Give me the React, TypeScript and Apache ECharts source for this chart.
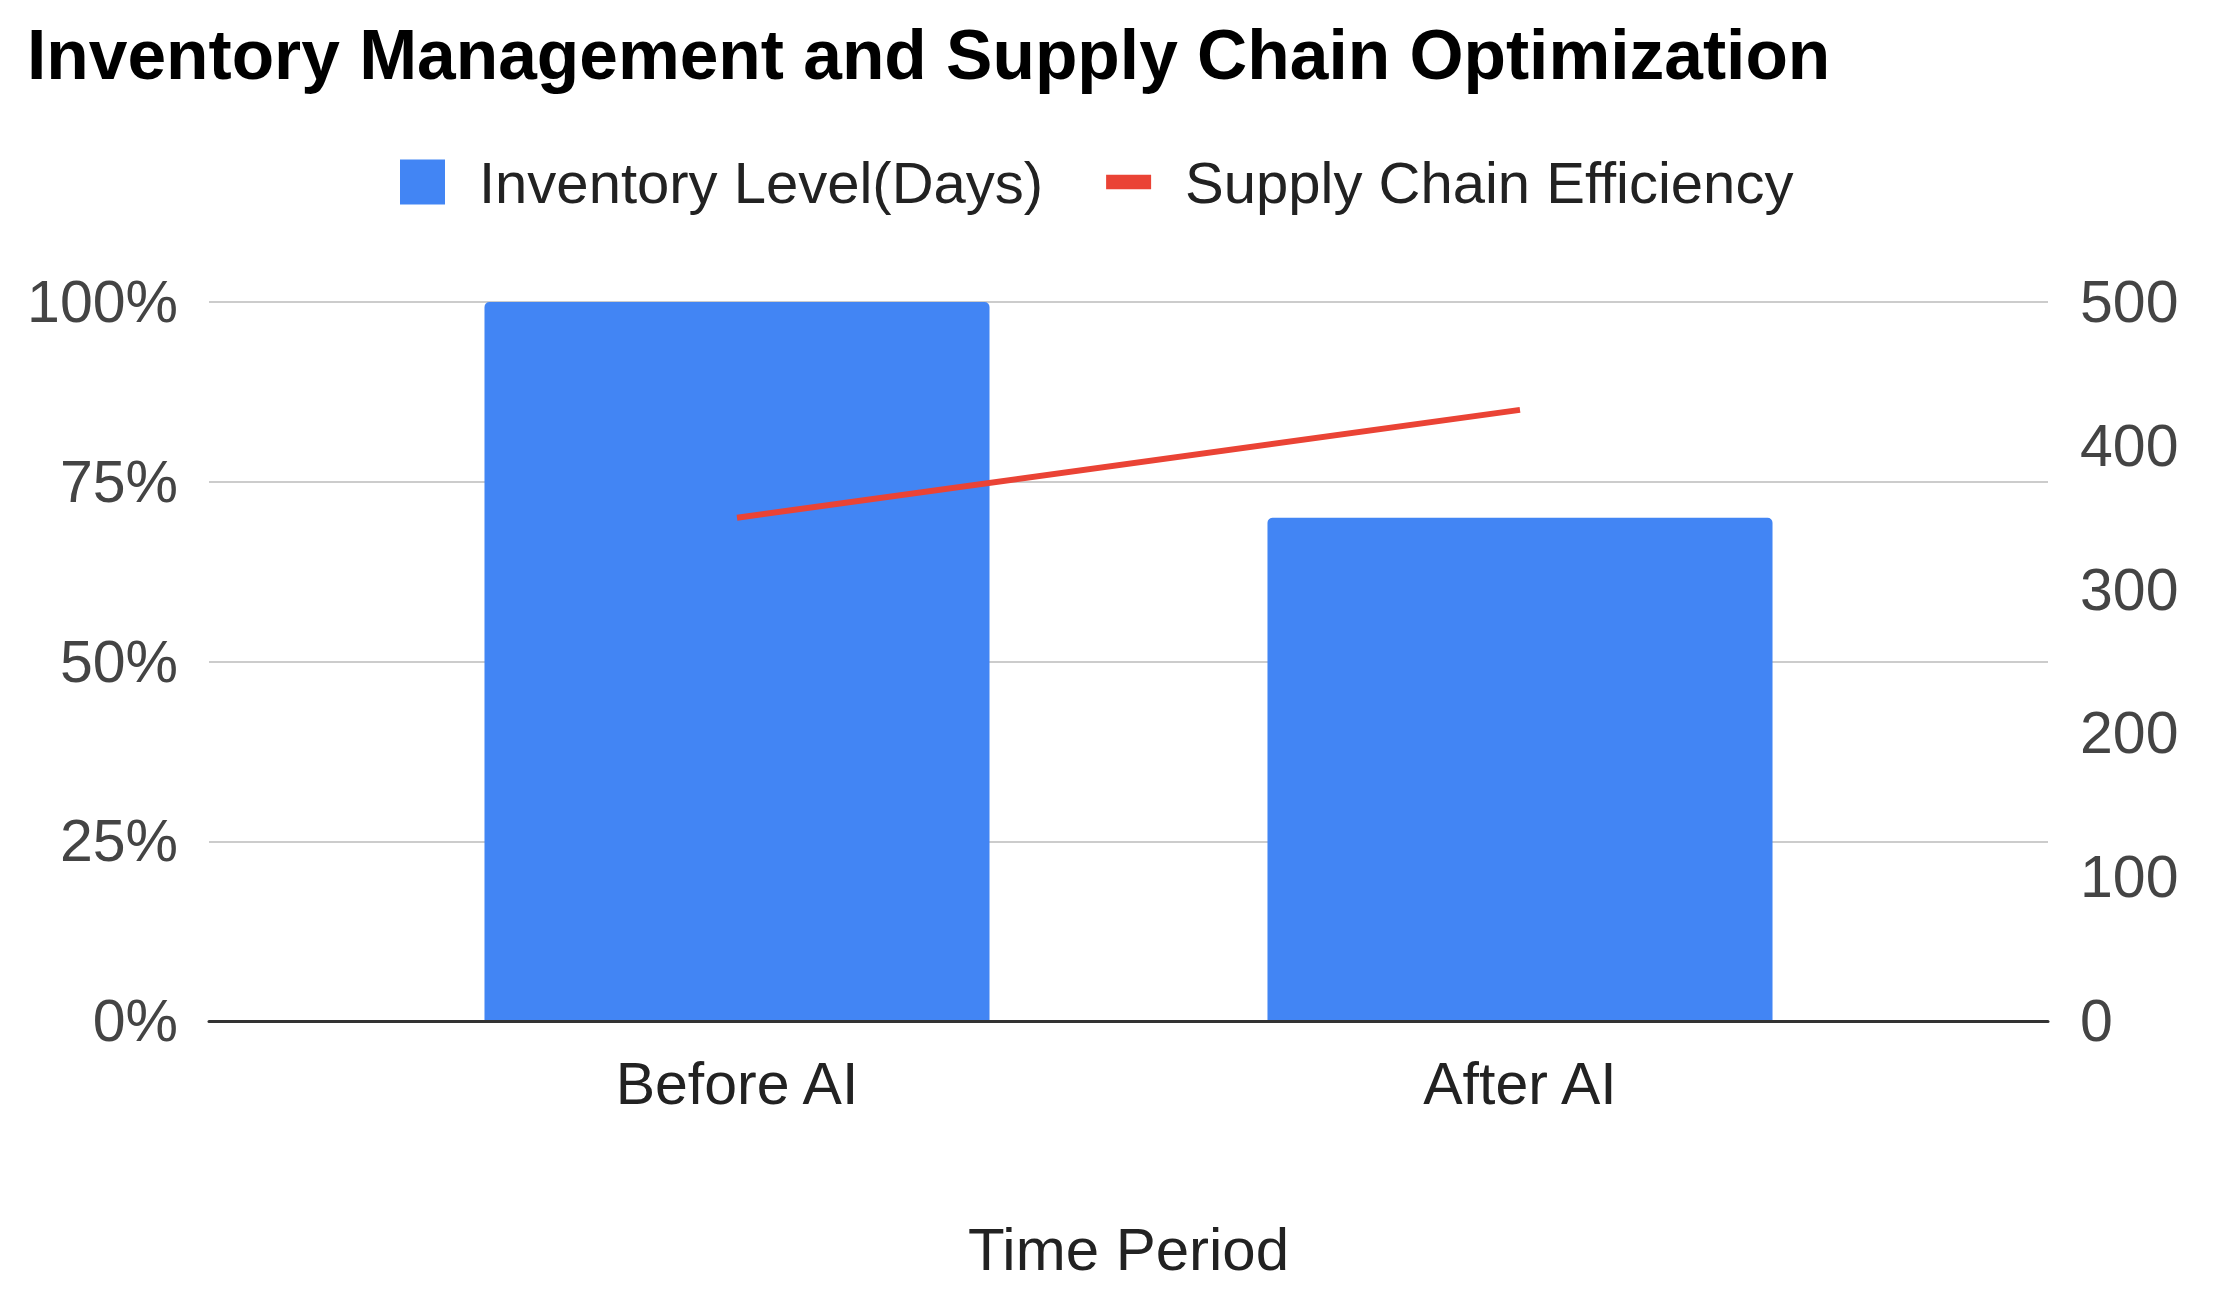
import React, { useEffect, useRef } from "react";
import * as echarts from "echarts";

const titleText = "Inventory Management and Supply Chain Optimization";
const categories = ["Before AI", "After AI"];
const seriesNames = ["Inventory Level(Days)", "Supply Chain Efficiency"];
const inventoryLevel = [100, 70];
const supplyChainEfficiency = [350, 425];
const xAxisName = "Time Period";

const FONT = "'Liberation Sans', Arial, sans-serif";
const BLUE = "#4285f4";
const RED = "#ea4335";

export default function App() {
  const ref = useRef<HTMLDivElement>(null);

  useEffect(() => {
    if (!ref.current) return;
    const chart = echarts.init(ref.current, null, { renderer: "svg" });
    chart.setOption({
      animation: false,
      backgroundColor: "#ffffff",
      title: {
        text: titleText,
        left: 27,
        top: 20,
        padding: 0,
        textStyle: { fontFamily: FONT, fontSize: 69.5, fontWeight: "bold", color: "#000" },
      },
      legend: {
        top: 153,
        left: 400,
        padding: 0,
        itemWidth: 45,
        itemHeight: 45,
        itemGap: 63,
        textStyle: { fontFamily: FONT, fontSize: 58, color: "#222", padding: [0, 0, 0, 29] },
        data: [
          { name: seriesNames[0], icon: "rect", itemStyle: { color: BLUE, borderWidth: 0 } },
          { name: seriesNames[1], icon: "path://M0,0H46V15H0Z", itemStyle: { color: RED, borderWidth: 0 } },
        ],
      },
      grid: [
        { left: 209, right: 169, top: 302, height: 719 },
        { left: 345.5, right: 305.5, top: 302, height: 719 },
      ],
      xAxis: [
        {
          gridIndex: 0,
          type: "category",
          data: categories,
          z: 10,
          axisLabel: { show: false },
          axisTick: { show: false },
          axisLine: { lineStyle: { color: "#333", width: 3 } },
          name: xAxisName,
          nameLocation: "middle",
          nameGap: 198,
          nameTextStyle: { fontFamily: FONT, fontSize: 60, color: "#222", verticalAlign: "top" },
        },
        {
          gridIndex: 1,
          type: "category",
          data: categories,
          axisLine: { show: false },
          axisTick: { show: false },
          axisLabel: { fontFamily: FONT, fontSize: 59, color: "#222", margin: 33 },
        },
      ],
      yAxis: [
        {
          gridIndex: 0,
          type: "value",
          position: "left",
          min: 0,
          max: 100,
          interval: 25,
          axisLine: { show: false },
          axisTick: { show: false },
          axisLabel: { formatter: "{value}%", fontFamily: FONT, fontSize: 59, color: "#444", margin: 31 },
          splitLine: { lineStyle: { color: "#cccccc", width: 2 } },
        },
        {
          gridIndex: 0,
          type: "value",
          position: "right",
          min: 0,
          max: 500,
          interval: 100,
          axisLine: { show: false },
          axisTick: { show: false },
          axisLabel: { fontFamily: FONT, fontSize: 59, color: "#444", margin: 32 },
          splitLine: { show: false },
        },
        { gridIndex: 1, type: "value", min: 0, max: 100, show: false },
        { gridIndex: 1, type: "value", min: 0, max: 500, show: false },
      ],
      series: [
        {
          type: "bar",
          name: seriesNames[0],
          xAxisIndex: 1,
          yAxisIndex: 2,
          data: inventoryLevel,
          barWidth: "64.5%",
          itemStyle: { color: BLUE, borderRadius: [5, 5, 0, 0] },
        },
        {
          type: "line",
          name: seriesNames[1],
          xAxisIndex: 1,
          yAxisIndex: 3,
          data: supplyChainEfficiency,
          symbol: "none",
          z: 5,
          itemStyle: { color: RED },
          lineStyle: { color: RED, width: 6 },
        },
      ],
    });
    return () => chart.dispose();
  }, []);

  return (
    <div
      ref={ref}
      style={{ position: "absolute", left: 0, top: 0, width: 2217, height: 1313 }}
    />
  );
}
